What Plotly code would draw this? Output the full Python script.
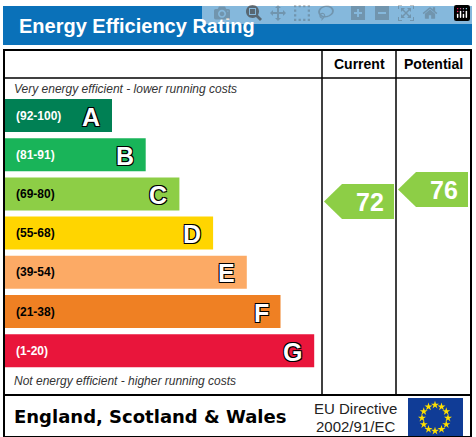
import plotly.graph_objects as go
import numpy as np

bands = ["A", "B", "C", "D", "E", "F", "G"]
ranges = ["(92-100)", "(81-91)", "(69-80)", "(55-68)", "(39-54)", "(21-38)", "(1-20)"]
lows = [92, 81, 69, 55, 39, 21, 1]
highs = [100, 91, 80, 68, 54, 38, 20]
colors = ["#008054", "#19b459", "#8dce46", "#ffd500", "#fcaa65", "#ef8023", "#e9153b"]
current = 72
potential = 76

W, H = 476, 437
F = "Liberation Sans, Arial, sans-serif"
fig = go.Figure()
shapes, ann = [], []

shapes.append(dict(type="rect", x0=3, x1=472, y0=6, y1=45, fillcolor="#0a71b9", line_width=0))
ann.append(dict(x=17, y=26, text="<b>Energy Efficiency Rating</b>", xanchor="left", yanchor="middle",
                font=dict(size=20, color="white", family=F), showarrow=False))
shapes.append(dict(type="rect", x0=4, x1=471, y0=50, y1=437, line=dict(color="black", width=2)))
shapes.append(dict(type="line", x0=4, x1=471, y0=78, y1=78, line=dict(color="black", width=1.5)))
shapes.append(dict(type="line", x0=4, x1=471, y0=395, y1=395, line=dict(color="black", width=2)))
for xc in (322, 396):
    shapes.append(dict(type="line", x0=xc, x1=xc, y0=50, y1=395, line=dict(color="black", width=1.5)))
ann.append(dict(x=359, y=64, text="<b>Current</b>", font=dict(size=14, family=F, color="black"), showarrow=False))
ann.append(dict(x=433, y=64, text="<b>Potential</b>", font=dict(size=14, family=F, color="black"), showarrow=False))
ann.append(dict(x=12, y=89, text="<i>Very energy efficient - lower running costs</i>", xanchor="left",
                font=dict(size=12, family=F, color="#333"), showarrow=False))
ann.append(dict(x=12, y=381, text="<i>Not energy efficient - higher running costs</i>", xanchor="left",
                font=dict(size=12, family=F, color="#333"), showarrow=False))

top0, step, bh = 99, 39.2, 33
tops = []
for i, (b, r, c) in enumerate(zip(bands, ranges, colors)):
    t = top0 + i * step
    tops.append(t)
    right = 112 + i * 33.7
    shapes.append(dict(type="rect", x0=5, x1=right, y0=t, y1=t + bh, fillcolor=c, line_width=0))
    ann.append(dict(x=14, y=t + bh / 2, text="<b>" + r + "</b>", xanchor="left",
                    font=dict(size=12, family=F, color="white" if i in (0, 1, 6) else "black"), showarrow=False))
    ann.append(dict(x=right - 10, y=t + bh / 2 + 1, text="<b>" + b + "</b>", xanchor="right",
                    font=dict(size=25, family=F, color="white",
                              shadow="1px 1px 0 #000, -1px -1px 0 #000, 1px -1px 0 #000, -1px 1px 0 #000"),
                    showarrow=False))

def band_of(v):
    return next(k for k in range(len(bands)) if lows[k] <= v <= highs[k])

def ypos(v):
    i = band_of(v)
    frac = (highs[i] - v) / (highs[i] - lows[i])
    return tops[i] + frac * bh

def arrow(v, x0, x1):
    yc = ypos(v)
    i = band_of(v)
    h2 = 17.5
    path = f"M {x0} {yc} L {x0+18} {yc-h2} L {x1} {yc-h2} L {x1} {yc+h2} L {x0+18} {yc+h2} Z"
    shapes.append(dict(type="path", path=path, fillcolor=colors[i], line_width=0))
    ann.append(dict(x=(x0 + 18 + x1) / 2 + 2, y=yc + 1, text="<b>" + str(v) + "</b>",
                    font=dict(size=25, family=F, color="white"), showarrow=False))

arrow(current, 324, 394)
arrow(potential, 398, 468)

ann.append(dict(x=12, y=416, text="<b>England, Scotland & Wales</b>", xanchor="left",
                font=dict(size=18, family="DejaVu Sans, sans-serif", color="black"), showarrow=False))
ann.append(dict(x=355, y=408, text="EU Directive", font=dict(size=15, family=F, color="#222"), showarrow=False))
ann.append(dict(x=355, y=426, text="2002/91/EC", font=dict(size=15, family=F, color="#222"), showarrow=False))
shapes.append(dict(type="rect", x0=408, x1=463, y0=398, y1=437, fillcolor="#103c96", line_width=0, layer="below"))
ang = np.arange(12) * np.pi / 6
fig.add_trace(go.Scatter(x=435 + 13 * np.cos(ang), y=418 + 13 * np.sin(ang), mode="markers",
                         marker=dict(symbol="star", size=6, color="#ffe000"), hoverinfo="skip", cliponaxis=False))

fig.update_layout(width=W, height=H, margin=dict(l=0, r=0, t=0, b=0), showlegend=False,
                  plot_bgcolor="white", paper_bgcolor="white", shapes=shapes, annotations=ann,
                  xaxis=dict(range=[0, W], visible=False), yaxis=dict(range=[H, 0], visible=False))
fig.write_html("out.html", post_script="document.body.style.margin='0';document.body.style.overflow='hidden';")
